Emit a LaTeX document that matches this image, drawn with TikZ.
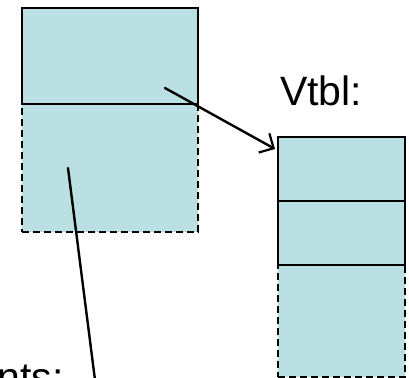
\documentclass[tikz,border=0pt]{standalone}
\usepackage{fontspec}
\setmainfont{Liberation Sans}
\usetikzlibrary{arrows.meta}
\definecolor{cellfill}{RGB}{187,224,227}
\tikzset{
  cell/.style={draw=black, fill=cellfill, line width=2pt, inner sep=0pt, anchor=north west},
  dcell/.style={cell, dash pattern=on 7pt off 4pt},
  ptr/.style={line width=2.4pt, line cap=round},
  lbl/.style={font=\fontsize{41}{45}\selectfont, inner sep=0pt}
}
\begin{document}
\begin{tikzpicture}[x=1pt,y=-1pt]
\useasboundingbox (0,0) rectangle (409,377);
\clip (0,0) rectangle (409,377);
% left object
\node[dcell, minimum width=176pt, minimum height=128pt] (objlow) at (21,103) {};
\node[cell, minimum width=176pt, minimum height=96pt] (objtop) at (21,7) {};
% vtbl
\node[dcell, minimum width=127pt, minimum height=112pt] (v3) at (277,264) {};
\node[cell, minimum width=127pt, minimum height=64pt] (v2) at (277,200) {};
\node[cell, minimum width=127pt, minimum height=64pt] (v1) at (277,136) {};
% labels
\node[lbl, anchor=base west] (vtbl) at (280,106) {Vtbl:};
\node[lbl, anchor=base east] (nts) at (64,391) {nts:};
% pointers
\coordinate (p1) at (165,88);
\coordinate (a1) at (275,149);
\coordinate (p2) at (68,168);
\coordinate (e2) at (95,380);
\draw[ptr, -{Straight Barb[length=11pt,width=22pt,line width=2.2pt]}] (p1) -- (a1);
\draw[ptr] (p2) -- (e2);
\end{tikzpicture}
\end{document}
